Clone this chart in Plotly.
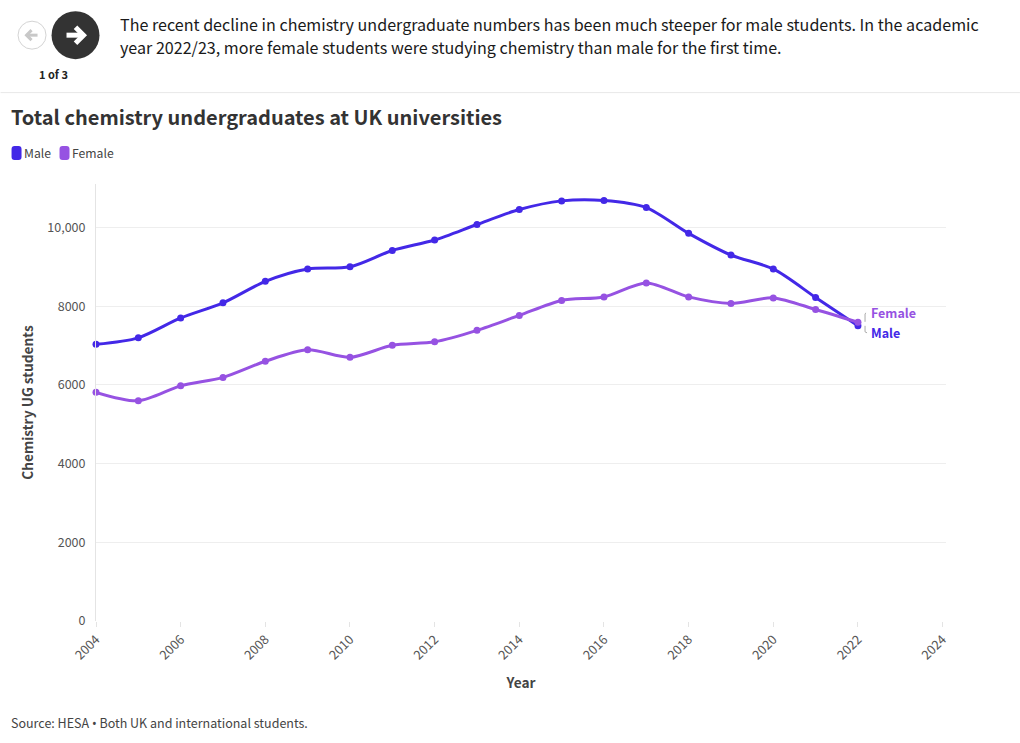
import plotly.graph_objects as go

years = list(range(2004, 2023))
male = [7030, 7195, 7700, 8085, 8630, 8945, 9000, 9415, 9680, 10075, 10455, 10675, 10685, 10505, 9850, 9300, 8945, 8220, 7500]
female = [5810, 5595, 5975, 6190, 6600, 6890, 6700, 7005, 7095, 7385, 7765, 8145, 8235, 8590, 8235, 8070, 8210, 7915, 7590]
x_ticks = list(range(2004, 2025, 2))
y_ticks = [0, 2000, 4000, 6000, 8000, 10000]
y_labels = ["0", "2000", "4000", "6000", "8000", "10,000"]

MALE = "#4328e7"
FEMALE = "#9652e2"
FONT = "Noto Sans CJK SC, Noto Sans, sans-serif"
W, H = 1020, 743
L, R, T, B = 95.5, 946, 184, 621.5


def px(x):
    return (x - L) / (R - L)


def py(y):
    return (B - y) / (B - T)


def path(points):
    return "M " + " L ".join(f"{px(a):.5f},{py(b):.5f}" for a, b in points)


def pill(x0, x1, y0, y1, r=3):
    p = lambda a, b: f"{px(a):.5f},{py(b):.5f}"
    return (f"M {p(x0 + r, y0)} L {p(x1 - r, y0)} Q {p(x1, y0)} {p(x1, y0 + r)} L {p(x1, y1 - r)} "
            f"Q {p(x1, y1)} {p(x1 - r, y1)} L {p(x0 + r, y1)} Q {p(x0, y1)} {p(x0, y1 - r)} "
            f"L {p(x0, y0 + r)} Q {p(x0, y0)} {p(x0 + r, y0)} Z")


fig = go.Figure()
for name, vals, col in [("Male", male, MALE), ("Female", female, FEMALE)]:
    fig.add_trace(go.Scatter(
        x=years, y=vals, name=name, mode="lines+markers",
        line=dict(color=col, width=3, shape="spline", smoothing=0.8),
        marker=dict(color=col, size=7), cliponaxis=False,
    ))

P = dict(xref="paper", yref="paper")
shapes = [
    dict(type="line", **P, x0=px(0), x1=px(W), y0=py(92.5), y1=py(92.5), line=dict(color="#e8e8e8", width=1)),
    dict(type="circle", **P, x0=px(17.5), x1=px(45.5), y0=py(21), y1=py(49),
         line=dict(color="#d4d4d4", width=1), fillcolor="white"),
    dict(type="circle", **P, x0=px(51), x1=px(99), y0=py(11), y1=py(59), line=dict(width=0), fillcolor="#333333"),
    dict(type="path", **P, path=path([(66, 35), (82, 35)]), line=dict(color="white", width=5)),
    dict(type="path", **P, path=path([(75, 27), (83, 35), (75, 43)]), line=dict(color="white", width=5)),
    dict(type="path", **P, path=path([(26, 35), (37, 35)]), line=dict(color="#c8c8c8", width=3)),
    dict(type="path", **P, path=path([(31, 30), (26, 35), (31, 40)]), line=dict(color="#c8c8c8", width=3)),
    dict(type="path", **P, path=pill(11, 21, 146, 160), line=dict(width=0), fillcolor=MALE),
    dict(type="path", **P, path=pill(59, 69, 146, 160), line=dict(width=0), fillcolor=FEMALE),
    dict(type="path", **P, path=path([(866, 313), (865, 314), (865, 322)]), line=dict(color="#aaaaaa", width=1)),
    dict(type="path", **P, path=path([(865, 326), (865, 332), (867, 333)]), line=dict(color="#aaaaaa", width=1)),
]


def note(x, y, text, size, color, anchor="left", bold=False):
    shift = -2.5 if anchor == "left" else 0
    return dict(**P, x=px(x + shift), y=py(y), text=f"<b>{text}</b>" if bold else text,
                showarrow=False, xanchor=anchor, yanchor="middle", align="left",
                font=dict(family=FONT, size=size, color=color))


annotations = [
    note(120, 24, "The recent decline in chemistry undergraduate numbers has been much steeper for male students. In the academic", 16.1, "#1a1a1a"),
    note(120, 47, "year 2022/23, more female students were studying chemistry than male for the first time.", 16.1, "#1a1a1a"),
    note(52.5, 74, "1 of 3", 11, "#222222", anchor="center", bold=True),
    note(11, 116, "Total chemistry undergraduates at UK universities", 20, "#333333", bold=True),
    note(24, 153, "Male", 12.2, "#444444"),
    note(72, 153, "Female", 12.2, "#444444"),
    note(871, 312.5, "Female", 12.5, FEMALE, bold=True),
    note(871, 332.5, "Male", 12.5, MALE, bold=True),
    note(11, 723.5, "Source: HESA <span style=\"font-family:'Noto Sans'\">•</span> Both UK and international students.", 12.5, "#444444"),
]

fig.update_layout(
    width=W, height=H, paper_bgcolor="white", plot_bgcolor="white", showlegend=False,
    margin=dict(l=L, r=W - R, t=T, b=H - B, autoexpand=False),
    font=dict(family=FONT, color="#555555"), shapes=shapes, annotations=annotations,
    xaxis=dict(range=[2004, 2024.08], tickvals=x_ticks, ticktext=[str(v) for v in x_ticks], tickangle=-45,
               showgrid=False, zeroline=False, showline=False, ticks="outside", ticklen=5, tickcolor="#e4e4e4",
               tickfont=dict(size=12.8, color="#555555"),
               title=dict(text="<b>Year</b>", standoff=15, font=dict(size=13.7, color="#444444"))),
    yaxis=dict(range=[0, 11104], tickvals=y_ticks, ticktext=y_labels, showgrid=True, gridcolor="#eeeeee",
               gridwidth=1, zeroline=False, showline=True, linecolor="#e4e4e4", linewidth=1,
               ticks="outside", ticklen=7, tickcolor="rgba(255,255,255,0)",
               tickfont=dict(size=12.5, color="#555555"),
               title=dict(text="<b>Chemistry UG students</b>", standoff=10, font=dict(size=13.7, color="#444444"))),
)

fig.write_html("out.html", config=dict(displayModeBar=False),
               post_script="document.body.style.margin='0';document.body.style.overflow='hidden';")
